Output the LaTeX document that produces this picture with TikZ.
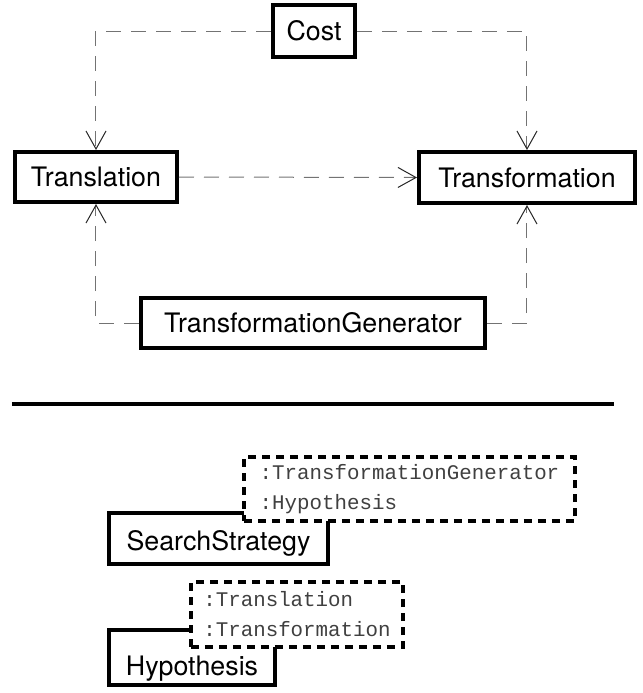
\documentclass[tikz,border=0pt]{standalone}
\usepackage{fontspec}
\setmainfont{TeX Gyre Heros}
\setmonofont{Liberation Mono}
\usetikzlibrary{arrows.meta}

\begin{document}
\begin{tikzpicture}[x=.5pt,y=-.5pt,
	cls/.style={draw,line width=2pt,fill=white,inner sep=0pt,font=\fontsize{13.4}{16}\selectfont},
	dep/.style={draw=black!55,line width=.5pt,dash pattern=on 7.5pt off 5pt,
		-{Straight Barb[length=9pt,width=10pt,color=black!85]}},
	roles/.style={draw,line width=2pt,dash pattern=on 4pt off 3pt,fill=white,align=left,
		text=black!75,inner sep=0pt,font=\ttfamily\fontsize{10.4}{15}\selectfont}]
			\useasboundingbox (0,0) rectangle (643,693);
			
			% class dependencies
			\node[cls,minimum width=41pt,minimum height=26pt] (cost) at (314,31) {Cost};
			\node[cls,minimum width=81pt,minimum height=25pt] (trl) at (96,177) {Translation};
			\node[cls,minimum width=108pt,minimum height=25.5pt] (trf) at (527,177.5) {Transformation};
			\node[cls,minimum width=172pt,minimum height=25pt] (gen) at (313,323) {TransformationGenerator};
			
			\draw[dep] (cost.west) -| (trl.north);
			\draw[dep] (cost.east) -| (trf.north);
			\draw[dep] (trl.east) -- (trf.west);
			\draw[dep] (gen.west) -| (trl.south);
			\draw[dep] (gen.east) -| (trf.south);
			
			\coordinate (sepL) at (12,404); \coordinate (sepR) at (614,404);
			\draw[line width=2pt] (sepL) -- (sepR);
			
			% parametrised classes, name sits low in the box
			\node[cls,minimum width=109.5pt,text height=18.5pt,text depth=7pt,anchor=base] (search) at (218.5,550) {SearchStrategy};
			\node[roles,minimum width=165.5pt,minimum height=32pt] (searchpar) at (409.5,489) {:TransformationGenerator\\:Hypothesis};
			
			\node[cls,minimum width=83pt,text height=22.5pt,text depth=5pt,anchor=base] (hyp) at (192,675) {Hypothesis};
			\node[roles,minimum width=106pt,minimum height=32.5pt] (hyppar) at (297,614.5) {:Translation\\:Transformation};
\end{tikzpicture}
\end{document}
